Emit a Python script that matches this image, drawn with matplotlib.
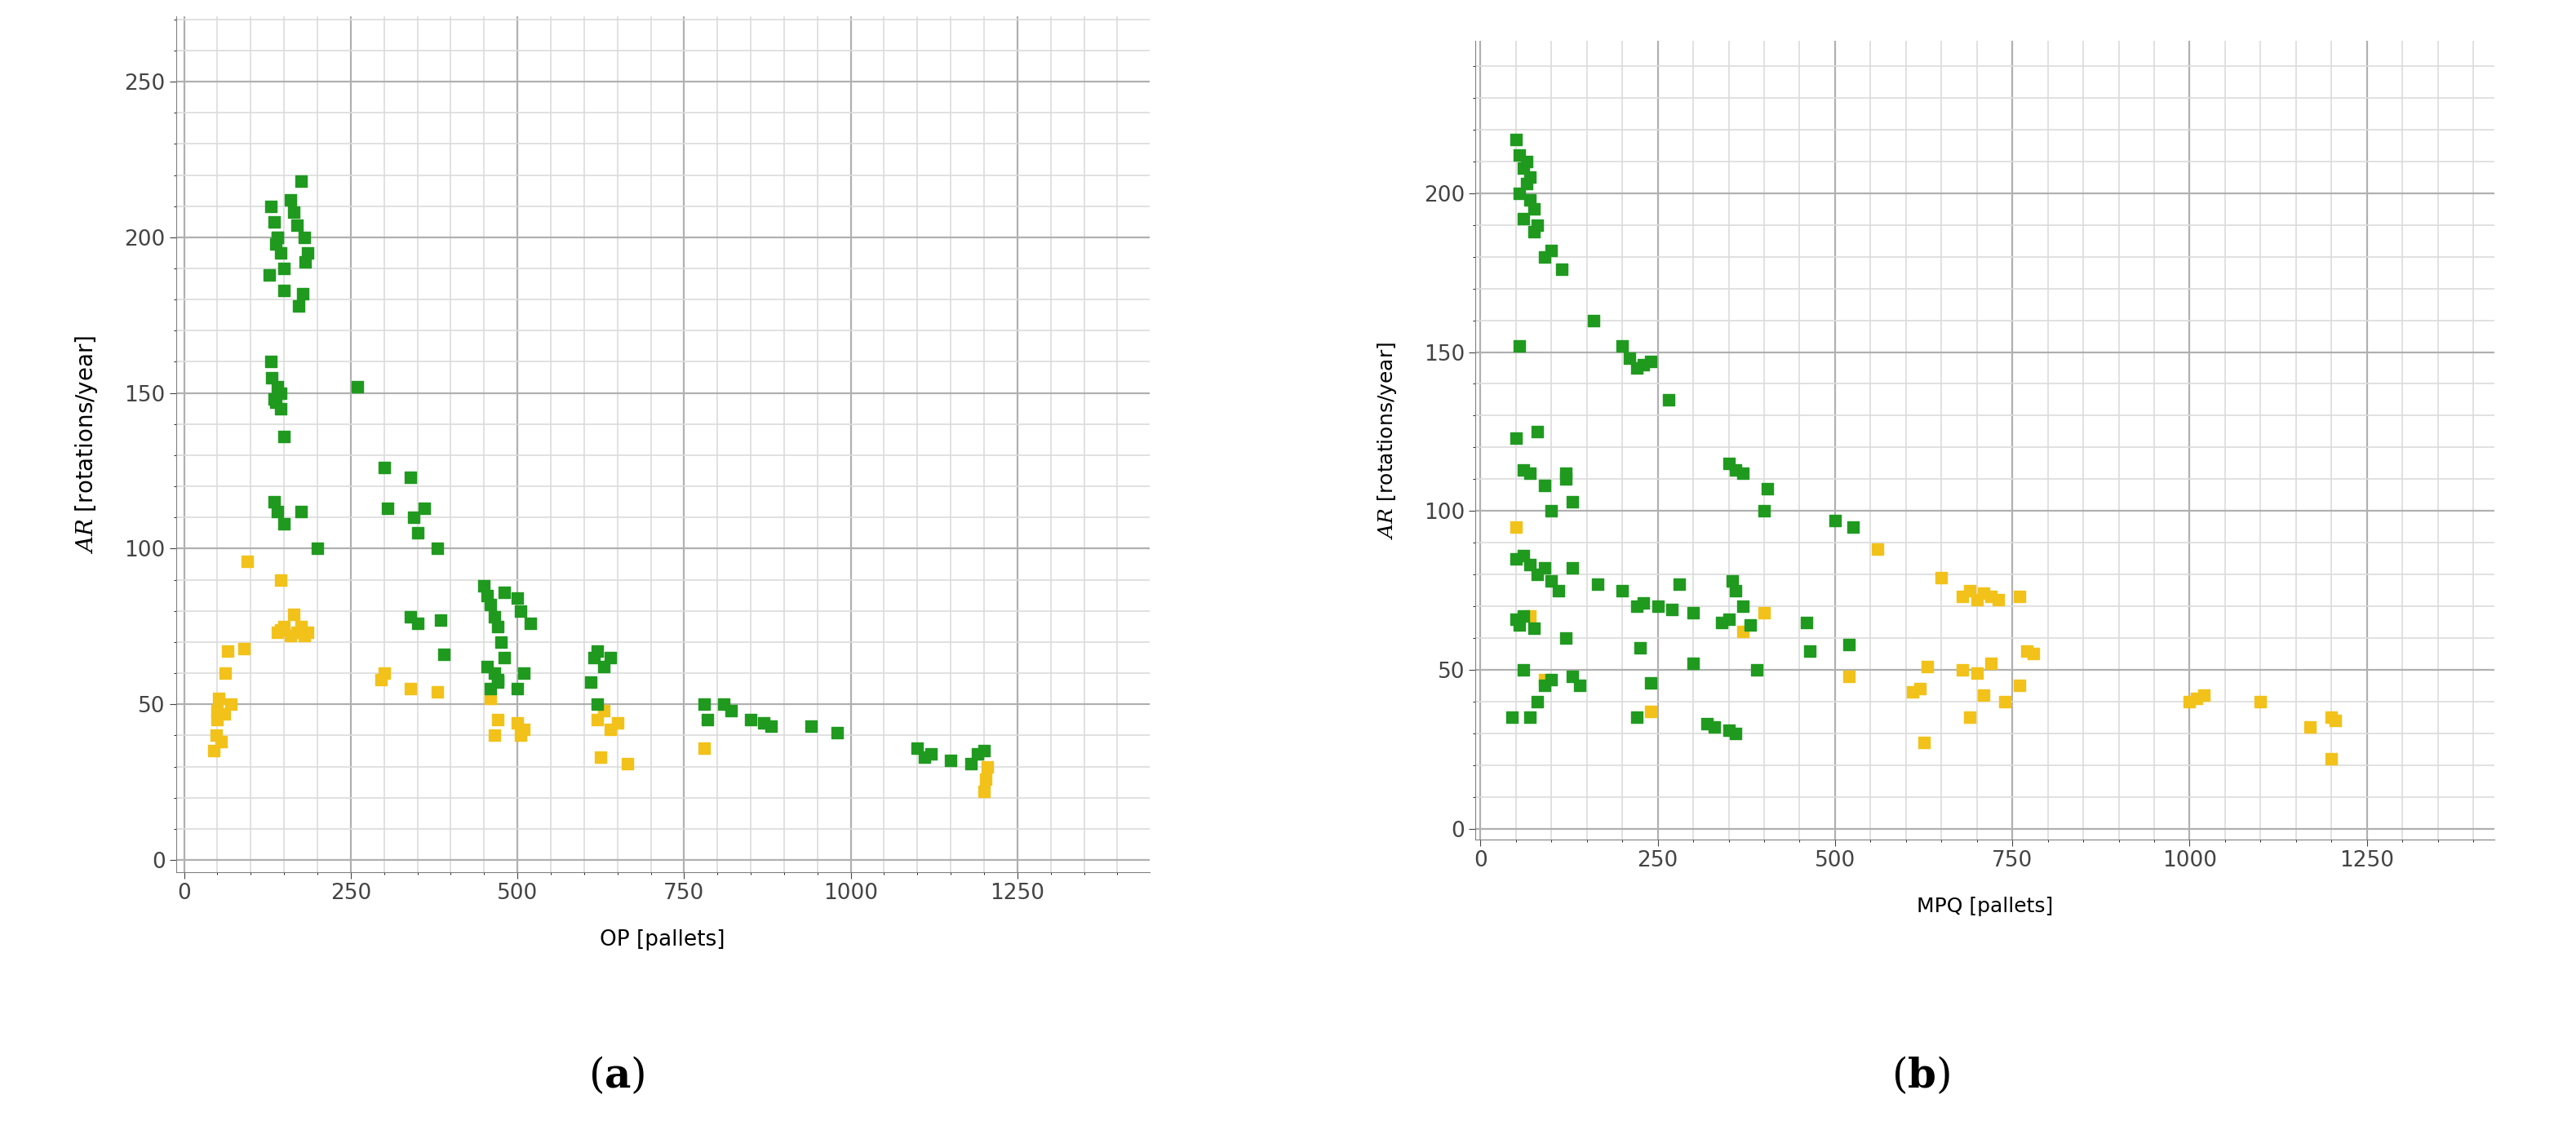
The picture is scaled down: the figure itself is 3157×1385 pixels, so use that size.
import numpy as np
import matplotlib.pyplot as plt

plt.rcParams['mathtext.fontset'] = 'dejavuserif'

# panel (a): OP vs AR
a_green_x = [130, 135, 140, 145, 150, 128, 138, 160, 165, 170, 175, 180, 185, 172, 178, 182, 150, 140,
             130, 135, 140, 145, 150, 132, 138, 145, 135, 140, 150, 175, 200, 260, 300, 305, 340, 345, 350, 360,
             340, 350, 380, 385, 390, 450, 455, 460, 465, 470, 475, 480, 455, 465, 470, 480, 500, 505, 510, 520,
             460, 470, 500, 610, 615, 620, 630, 640, 620, 780, 785, 810, 820, 850, 870, 880, 940, 980,
             1100, 1110, 1120, 1150, 1180, 1190, 1200]
a_green_y = [210, 205, 200, 195, 190, 188, 198, 212, 208, 204, 218, 200, 195, 178, 182, 192, 183, 200,
             160, 148, 152, 145, 136, 155, 147, 150, 115, 112, 108, 112, 100, 152, 126, 113, 123, 110, 105, 113,
             78, 76, 100, 77, 66, 88, 85, 82, 78, 75, 70, 65, 62, 60, 58, 86, 84, 80, 60, 76,
             55, 57, 55, 57, 65, 67, 62, 65, 50, 50, 45, 50, 48, 45, 44, 43, 43, 41,
             36, 33, 34, 32, 31, 34, 35]
a_yellow_x = [45, 48, 50, 52, 55, 50, 60, 62, 65, 70, 90, 95, 140, 145, 150, 160, 165, 170, 175, 180, 185, 145,
              295, 300, 340, 380, 460, 465, 470, 500, 505, 510, 620, 625, 630, 640, 650, 665, 780,
              1200, 1202, 1205]
a_yellow_y = [35, 40, 45, 52, 38, 48, 47, 60, 67, 50, 68, 96, 73, 74, 75, 72, 79, 73, 75, 72, 73, 90,
              58, 60, 55, 54, 52, 40, 45, 44, 40, 42, 45, 33, 48, 42, 44, 31, 36,
              22, 26, 30]

# panel (b): MPQ vs AR
b_green_x = [50, 55, 60, 65, 70, 75, 80, 55, 60, 65, 70, 75, 90, 100, 115, 120, 160, 200, 210, 220, 230, 240, 265, 55,
             50, 60, 70, 80, 90, 100, 120, 130, 50, 60, 70, 80, 90, 100, 110, 130,
             50, 55, 60, 70, 80, 90, 100, 45, 60, 75, 120, 130, 140, 165, 200, 220, 230, 250, 270, 280, 300,
             220, 225, 240, 300, 320, 330, 350, 360, 340, 350, 355, 360, 370, 380, 350, 360, 370, 390, 400, 405,
             460, 465, 500, 520, 525]
b_green_y = [217, 212, 208, 203, 198, 195, 190, 200, 192, 210, 205, 188, 180, 182, 176, 112, 160, 152, 148, 145, 146, 147, 135, 152,
             123, 113, 112, 125, 108, 100, 110, 103, 85, 86, 83, 80, 82, 78, 75, 82,
             66, 64, 50, 35, 40, 45, 47, 35, 67, 63, 60, 48, 45, 77, 75, 70, 71, 70, 69, 77, 68,
             35, 57, 46, 52, 33, 32, 31, 30, 65, 66, 78, 75, 70, 64, 115, 113, 112, 50, 100, 107,
             65, 56, 97, 58, 95]
b_yellow_x = [50, 70, 90, 240, 370, 400, 520, 560, 610, 620, 630, 625, 650, 680, 690, 700, 710, 720, 730, 740,
              680, 690, 700, 710, 720, 760, 770, 780, 760, 1000, 1010, 1020, 1100, 1170, 1200, 1205, 1200]
b_yellow_y = [95, 67, 47, 37, 62, 68, 48, 88, 43, 44, 51, 27, 79, 73, 75, 72, 74, 73, 72, 40,
              50, 35, 49, 42, 52, 73, 56, 55, 45, 40, 41, 42, 40, 32, 22, 34, 35]

green = '#1f9a1f'
yellow = '#f2c21a'

fig = plt.figure(figsize=(31.57, 13.85), dpi=100)
axa = fig.add_axes([108/1580, 1 - 535/693, (705-108)/1580, (535-10)/693])
axb = fig.add_axes([905/1580, 1 - 515/693, (1530-905)/1580, (515-25)/693])


def style(ax, xlim, ylim, yticks):
    ax.set_xlim(*xlim)
    ax.set_ylim(*ylim)
    ax.set_xticks([0, 250, 500, 750, 1000, 1250])
    ax.set_yticks(yticks)
    ax.set_xticks(np.arange(0, xlim[1], 50), minor=True)
    ax.set_yticks(np.arange(0, ylim[1], 10), minor=True)
    ax.grid(which='major', color='#b0b0b0', lw=1.6)
    ax.grid(which='minor', color='#dcdcdc', lw=1.2)
    ax.set_axisbelow(True)
    for s in ['top', 'right']:
        ax.spines[s].set_visible(False)
    ax.spines['left'].set_color('#808080')
    ax.spines['bottom'].set_color('#808080')
    ax.tick_params(labelsize=19, colors='#444444', length=6)


axa.scatter(a_yellow_x, a_yellow_y, marker='s', s=110, color=yellow, zorder=3)
axa.scatter(a_green_x, a_green_y, marker='s', s=110, color=green, zorder=3)
style(axa, (-12, 1448), (-4, 271), [0, 50, 100, 150, 200, 250])
axa.set_xlabel('OP [pallets]', fontsize=19, labelpad=22)
axa.set_ylabel(r'$\mathbf{\mathit{AR}}$ [rotations/year]', fontsize=20, labelpad=22)

axb.scatter(b_yellow_x, b_yellow_y, marker='s', s=110, color=yellow, zorder=3)
axb.scatter(b_green_x, b_green_y, marker='s', s=110, color=green, zorder=3)
style(axb, (-7, 1430), (-3.5, 248), [0, 50, 100, 150, 200])
axb.set_xlabel('MPQ [pallets]', fontsize=18, labelpad=22)
axb.set_ylabel(r'$\mathbf{\mathit{AR}}$ [rotations/year]', fontsize=18, labelpad=22)

fig.text(378/1580, 1 - 660/693, r'($\mathbf{a}$)', fontsize=36, ha='center', va='center', family='serif')
fig.text(1178/1580, 1 - 660/693, r'($\mathbf{b}$)', fontsize=36, ha='center', va='center', family='serif')

fig.savefig('out.png', dpi=100)
